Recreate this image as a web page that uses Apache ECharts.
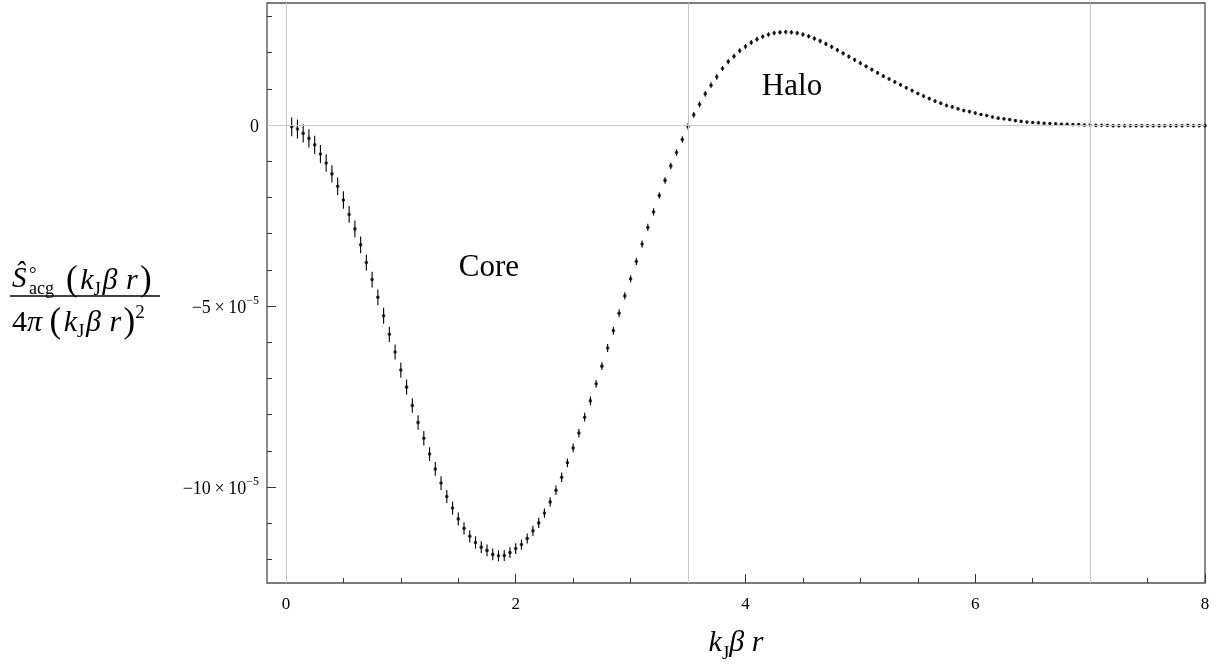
<!DOCTYPE html>
<html>
<head>
<meta charset="utf-8">
<script src="https://cdn.jsdelivr.net/npm/echarts@6.0.0/dist/echarts.min.js"></script>
<style>html,body{margin:0;padding:0;background:#fff;}#chart{width:1221px;height:666px;}</style>
</head>
<body>
<div id="chart"></div>
<script>
// x positions k_J*beta*r
const xValues = [0.05,0.10,0.15,0.20,0.25,0.30,0.35,0.40,0.45,0.50,0.55,0.60,0.65,0.70,0.75,0.80,0.85,0.90,0.95,1.00,
1.05,1.10,1.15,1.20,1.25,1.30,1.35,1.40,1.45,1.50,1.55,1.60,1.65,1.70,1.75,1.80,1.85,1.90,1.95,2.00,
2.05,2.10,2.15,2.20,2.25,2.30,2.35,2.40,2.45,2.50,2.55,2.60,2.65,2.70,2.75,2.80,2.85,2.90,2.95,3.00,
3.05,3.10,3.15,3.20,3.25,3.30,3.35,3.40,3.45,3.50,3.55,3.60,3.65,3.70,3.75,3.80,3.85,3.90,3.95,4.00,
4.05,4.10,4.15,4.20,4.25,4.30,4.35,4.40,4.45,4.50,4.55,4.60,4.65,4.70,4.75,4.80,4.85,4.90,4.95,5.00,
5.05,5.10,5.15,5.20,5.25,5.30,5.35,5.40,5.45,5.50,5.55,5.60,5.65,5.70,5.75,5.80,5.85,5.90,5.95,6.00,
6.05,6.10,6.15,6.20,6.25,6.30,6.35,6.40,6.45,6.50,6.55,6.60,6.65,6.70,6.75,6.80,6.85,6.90,6.95,7.00,
7.05,7.10,7.15,7.20,7.25,7.30,7.35,7.40,7.45,7.50,7.55,7.60,7.65,7.70,7.75,7.80,7.85,7.90,7.95,8.00];
// values in units of 1e-5
const yValues = [-0.05,-0.11,-0.23,-0.37,-0.55,-0.80,-1.05,-1.35,-1.69,-2.07,
-2.47,-2.87,-3.31,-3.80,-4.27,-4.76,-5.27,-5.78,-6.27,-6.77,
-7.24,-7.75,-8.22,-8.65,-9.09,-9.50,-9.89,-10.26,-10.58,-10.88,
-11.14,-11.36,-11.53,-11.66,-11.75,-11.86,-11.90,-11.89,-11.81,-11.70,
-11.59,-11.42,-11.21,-10.99,-10.72,-10.41,-10.09,-9.73,-9.33,-8.92,
-8.51,-8.07,-7.62,-7.15,-6.66,-6.16,-5.68,-5.20,-4.72,-4.25,
-3.77,-3.29,-2.83,-2.40,-1.95,-1.53,-1.13,-0.76,-0.40,-0.04,
0.28,0.57,0.86,1.10,1.33,1.56,1.75,1.90,2.05,2.17,
2.28,2.37,2.44,2.50,2.54,2.56,2.57,2.56,2.54,2.50,
2.45,2.39,2.32,2.24,2.16,2.07,1.98,1.89,1.80,1.71,
1.62,1.53,1.44,1.35,1.27,1.19,1.11,1.03,0.95,0.87,
0.80,0.73,0.66,0.60,0.54,0.50,0.45,0.40,0.37,0.33,
0.29,0.26,0.22,0.19,0.17,0.15,0.12,0.10,0.08,0.07,
0.06,0.05,0.04,0.03,0.02,0.02,0.01,0.01,0.00,0.00,
-0.01,-0.01,-0.01,-0.02,-0.02,-0.02,-0.02,-0.02,-0.02,-0.02,
-0.02,-0.02,-0.02,-0.02,-0.02,-0.02,-0.01,-0.02,-0.02,-0.02];
// error bar half-lengths, units of 1e-5
const yErrors = [0.26,0.26,0.25,0.25,0.25,0.25,0.24,0.24,0.24,0.24,
0.23,0.23,0.23,0.22,0.22,0.22,0.22,0.21,0.21,0.21,
0.21,0.20,0.20,0.20,0.19,0.19,0.19,0.18,0.18,0.18,
0.17,0.17,0.17,0.16,0.16,0.16,0.15,0.15,0.15,0.15,
0.14,0.14,0.14,0.14,0.13,0.13,0.13,0.13,0.12,0.12,
0.12,0.12,0.12,0.11,0.11,0.11,0.11,0.11,0.10,0.10,
0.10,0.10,0.10,0.10,0.09,0.09,0.09,0.09,0.09,0.09,
0.08,0.08,0.08,0.08,0.08,0.07,0.07,0.07,0.07,0.07,
0.07,0.07,0.06,0.06,0.06,0.06,0.06,0.06,0.06,0.06,
0.06,0.06,0.06,0.06,0.06,0.06,0.06,0.06,0.06,0.06,
0.05,0.05,0.05,0.05,0.05,0.05,0.05,0.05,0.05,0.05,
0.05,0.05,0.05,0.05,0.05,0.05,0.05,0.05,0.05,0.05,
0.04,0.04,0.04,0.04,0.04,0.04,0.04,0.04,0.04,0.04,
0.04,0.04,0.04,0.04,0.04,0.04,0.04,0.04,0.04,0.04,
0.04,0.04,0.04,0.04,0.04,0.04,0.04,0.04,0.04,0.04,
0.04,0.04,0.04,0.04,0.04,0.04,0.04,0.04,0.04,0.04];
const xMajorTicks = [0,2,4,6,8];
const xMinorTicks = [0.5,1,1.5,2.5,3,3.5,4.5,5,5.5,6.5,7,7.5];
const yMajorTicks = [-10,-5,0];
const yMinorTicks = [-12,-11,-9,-8,-7,-6,-4,-3,-2,-1,1,2,3];
const gridLinesX = [0,3.5,7];
const gridLinesY = [0];

const SERIF = '"Liberation Serif","DejaVu Serif",serif';
const chart = echarts.init(document.getElementById('chart'), null, {renderer:'canvas'});
const pts = xValues.map((x,i)=>[x,yValues[i]]);
const bars = xValues.map((x,i)=>[x,yValues[i],yErrors[i]]);
const tickColor = '#333';
const xMin = -0.165, xMax = 8, yMin = -12.65, yMax = 3.37;

function yLabel(v){
  if (v === 0) return '{m|0}';
  return '{m|\u2212' + Math.abs(v) + '\u2009\u00d7\u200910}{s|\u22125}';
}
const noLine = {show:false, onZero:false};

const option = {
  animation: false,
  grid: {left: 267, right: 16, top: 3, bottom: 83, show: true, borderColor: '#505050', borderWidth: 1.3, backgroundColor: 'transparent'},
  xAxis: [
    {type:'value', min:xMin, max:xMax, position:'bottom',
     axisLine:noLine, splitLine:{show:false},
     axisTick:{show:true, inside:true, length:9, customValues:xMajorTicks, lineStyle:{color:tickColor, width:1}},
     axisLabel:{show:true, customValues:xMajorTicks, fontFamily:SERIF, fontSize:17, color:'#000', margin:13}},
    {type:'value', min:xMin, max:xMax, position:'bottom',
     axisLine:noLine, splitLine:{show:false},
     axisTick:{show:true, inside:true, length:5, customValues:xMinorTicks, lineStyle:{color:tickColor, width:1}},
     axisLabel:{show:false}}
  ],
  yAxis: [
    {type:'value', min:yMin, max:yMax, position:'left',
     axisLine:noLine, splitLine:{show:false},
     axisTick:{show:true, inside:true, length:9, customValues:yMajorTicks, lineStyle:{color:tickColor, width:1}},
     axisLabel:{show:true, customValues:yMajorTicks, margin:8, color:'#000', fontFamily:SERIF, fontSize:18,
       formatter: yLabel,
       rich:{m:{fontFamily:SERIF, fontSize:18, color:'#000', verticalAlign:'bottom', lineHeight:23},
             s:{fontFamily:SERIF, fontSize:12, color:'#000', verticalAlign:'top', lineHeight:23}}}},
    {type:'value', min:yMin, max:yMax, position:'left',
     axisLine:noLine, splitLine:{show:false},
     axisTick:{show:true, inside:true, length:5, customValues:yMinorTicks, lineStyle:{color:tickColor, width:1}},
     axisLabel:{show:false}}
  ],
  series: [
    {type:'line', data:[], xAxisIndex:0, yAxisIndex:0, silent:true,
     markLine:{silent:true, symbol:'none', animation:false, label:{show:false},
       lineStyle:{color:'#c8c8c8', width:1, type:'solid'},
       data: gridLinesX.map(v=>({xAxis:v})).concat(gridLinesY.map(v=>({yAxis:v})))}},
    {type:'custom', xAxisIndex:0, yAxisIndex:0, data:bars, silent:true,
     renderItem:function(params, api){
       const x = api.value(0), y = api.value(1), e = api.value(2);
       const p1 = api.coord([x, y - e]), p2 = api.coord([x, y + e]);
       return {type:'line', shape:{x1:p1[0], y1:p1[1], x2:p2[0], y2:p2[1]}, style:{stroke:'#000', lineWidth:1.1}};
     }},
    {type:'scatter', xAxisIndex:0, yAxisIndex:0, data:pts, symbol:'circle', symbolSize:3.6,
     itemStyle:{color:'#000'}, silent:true}
  ],
  graphic: [
    {type:'text', x:489, y:268, style:{text:'Core', font:'31px ' + SERIF, fill:'#000', align:'center', verticalAlign:'middle'}},
    {type:'text', x:792, y:87, style:{text:'Halo', font:'31px ' + SERIF, fill:'#000', align:'center', verticalAlign:'middle'}},
    // x axis title
    {type:'text', x:736, y:646, style:{text:'{i|k}{s|J}{i|\u03b2 r}', align:'center', verticalAlign:'middle',
      rich:{i:{fontFamily:SERIF, fontStyle:'italic', fontSize:30, color:'#000', verticalAlign:'top', lineHeight:35},
            s:{fontFamily:SERIF, fontSize:19, color:'#000', verticalAlign:'bottom', lineHeight:35}}}},
    // y axis title: numerator
    {type:'text', x:12, y:279, style:{text:'\u015c', font:'italic 29px ' + SERIF, fill:'#000', verticalAlign:'middle'}},
    {type:'text', x:29, y:275, style:{text:'\u00b0', font:'19px ' + SERIF, fill:'#000', verticalAlign:'middle'}},
    {type:'text', x:29, y:289, style:{text:'acg', font:'18px ' + SERIF, fill:'#000', verticalAlign:'middle'}},
    {type:'text', x:66, y:281, style:{text:'{p|(}{i|\u200ak}{s|J\u200a}{i|\u03b2\u2009\u200ar\u200a}{p|)}', verticalAlign:'middle',
      rich:{p:{fontFamily:SERIF, fontSize:35, color:'#000', verticalAlign:'middle', lineHeight:38},
            i:{fontFamily:SERIF, fontStyle:'italic', fontSize:30, color:'#000', verticalAlign:'middle', lineHeight:38},
            s:{fontFamily:SERIF, fontSize:19, color:'#000', verticalAlign:'bottom', lineHeight:32}}}},
    {type:'line', shape:{x1:10, y1:296, x2:160, y2:296}, style:{stroke:'#000', lineWidth:1.3}},
    // denominator
    {type:'text', x:12, y:323, style:{text:'{n|4}{i|\u03c0 }{p|(}{i|\u200ak}{s|J\u200a}{i|\u03b2\u2009\u200ar\u200a}{p|)}{u|2}', verticalAlign:'middle',
      rich:{n:{fontFamily:SERIF, fontSize:30, color:'#000', verticalAlign:'middle', lineHeight:38},
            p:{fontFamily:SERIF, fontSize:35, color:'#000', verticalAlign:'middle', lineHeight:38},
            i:{fontFamily:SERIF, fontStyle:'italic', fontSize:30, color:'#000', verticalAlign:'middle', lineHeight:38},
            s:{fontFamily:SERIF, fontSize:19, color:'#000', verticalAlign:'bottom', lineHeight:32},
            u:{fontFamily:SERIF, fontSize:19, color:'#000', verticalAlign:'top', lineHeight:34}}}}
  ]
};
chart.setOption(option);
</script>
</body>
</html>
